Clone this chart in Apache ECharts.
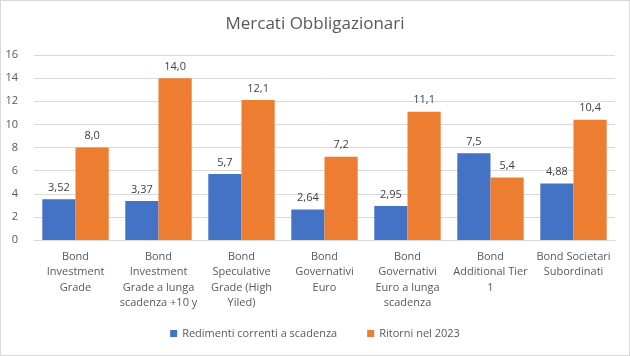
<!DOCTYPE html>
<html><head><meta charset="utf-8">
<style>html,body{margin:0;padding:0;background:#fff}#c{width:630px;height:356px;box-sizing:border-box;border:1px solid #d9d9d9}</style>
<script src="https://cdn.jsdelivr.net/npm/echarts@6/dist/echarts.min.js"></script>
</head><body><div id="c"></div>
<script>
const categories = ["Bond\nInvestment\nGrade","Bond\nInvestment\nGrade a lunga\nscadenza +10 y","Bond\nSpeculative\nGrade (High\nYiled)","Bond\nGovernativi\nEuro","Bond\nGovernativi\nEuro a lunga\nscadenza","Bond\nAdditional Tier\n1","Bond Societari\nSubordinati"];
const seriesNames = ["Redimenti correnti a scadenza","Ritorni nel 2023"];
const rendimenti = [3.52,3.37,5.7,2.64,2.95,7.5,4.88];
const rendimentiLabels = ["3,52","3,37","5,7","2,64","2,95","7,5","4,88"];
const ritorni = [8.0,14.0,12.1,7.2,11.1,5.4,10.4];
const ritorniLabels = ["8,0","14,0","12,1","7,2","11,1","5,4","10,4"];
const yTicks = [0,2,4,6,8,10,12,14,16];
const font = "'Open Sans', 'Noto Sans', sans-serif";
const chart = echarts.init(document.getElementById('c'));
chart.setOption({
  animation:false,
  textStyle:{fontFamily:font},
  title:{text:"Mercati Obbligazionari",left:'center',top:10,textStyle:{fontFamily:font,fontSize:17,fontWeight:'normal',color:'#595959'}},
  grid:{left:33,right:14,top:54,bottom:115,containLabel:false},
  legend:{bottom:11,left:'center',itemWidth:7,itemHeight:7,itemGap:30,icon:'rect',textStyle:{color:'#595959',fontSize:11,fontFamily:font},data:seriesNames},
  xAxis:{type:'category',data:categories,axisTick:{show:false},axisLine:{lineStyle:{color:'#d9d9d9'}},
    axisLabel:{color:'#595959',fontSize:11,lineHeight:15.5,interval:0,margin:9,fontFamily:font}},
  yAxis:{type:'value',min:yTicks[0],max:yTicks[yTicks.length-1],interval:2,
    axisLabel:{color:'#595959',fontSize:11,margin:16,fontFamily:font},
    splitLine:{lineStyle:{color:'#d9d9d9'}},axisLine:{show:false},axisTick:{show:false}},
  series:[
    {name:seriesNames[0],type:'bar',data:rendimenti,itemStyle:{color:'#4472C4'},barGap:'0%',barCategoryGap:'20%',
     label:{show:true,position:'top',distance:6,color:'#404040',fontSize:11,fontFamily:font,formatter:p=>rendimentiLabels[p.dataIndex]}},
    {name:seriesNames[1],type:'bar',data:ritorni,itemStyle:{color:'#ED7D31'},barGap:'0%',barCategoryGap:'20%',
     label:{show:true,position:'top',distance:6,color:'#404040',fontSize:11,fontFamily:font,formatter:p=>ritorniLabels[p.dataIndex]}}
  ]
});
</script></body></html>
